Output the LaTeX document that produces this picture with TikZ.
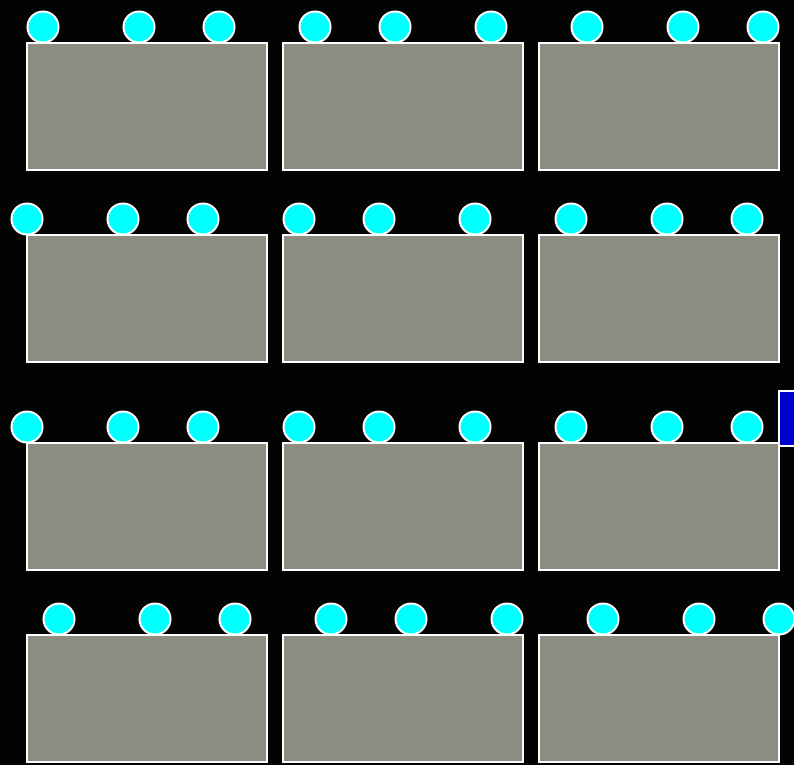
\documentclass[tikz,border=0pt]{standalone}
\definecolor{bg}{RGB}{3,3,3}
\definecolor{tablegray}{RGB}{140,140,128}
\definecolor{seatcyan}{RGB}{0,255,255}
\definecolor{doorblue}{RGB}{0,0,204}
\tikzset{
  tablebox/.style={draw=white, fill=tablegray, line width=2pt, inner sep=0pt, minimum width=240pt, minimum height=127pt},
  seat/.style={circle, draw=white, fill=seatcyan, line width=2pt, inner sep=0pt, minimum size=31pt},
  doorbox/.style={draw=white, fill=doorblue, line width=2pt, inner sep=0pt, minimum width=30pt, minimum height=55pt}
}
\begin{document}
\begin{tikzpicture}[x=1pt,y=-1pt]
\fill[bg] (0,0) rectangle (794,765);
\useasboundingbox (0,0) rectangle (794,765);
% rows: table center y, seat y, seat offset
\foreach \r/\ty/\sy/\off in {1/106.5/27/17, 2/298.5/219/1, 3/506.5/427/1, 4/698.5/619/33}{
  \foreach \c/\tx/\left/\mid in {1/147/26/96, 2/403/298/80, 3/659/570/96}{
    \node[tablebox] (t\r\c) at (\tx,\ty) {};
    \node[seat] (s\r\c a) at ({\left+\off},\sy) {};
    \node[seat] (s\r\c b) at ({\left+\mid+\off},\sy) {};
    \node[seat] (s\r\c c) at ({\left+176+\off},\sy) {};
  }
}
\node[doorbox] (door) at (794,418.5) {};
\end{tikzpicture}
\end{document}
